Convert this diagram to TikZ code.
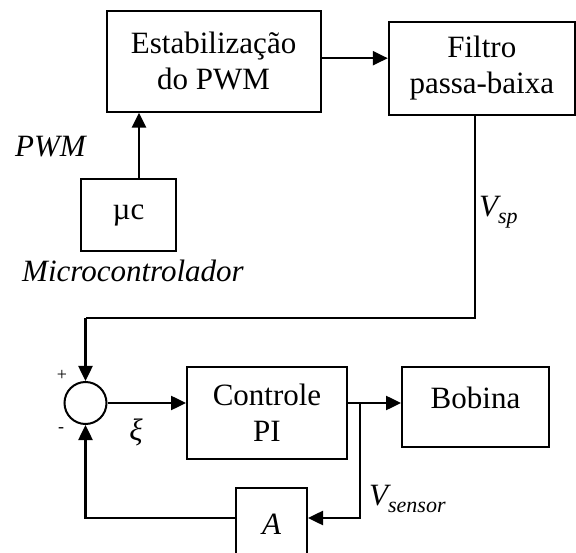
\documentclass[tikz,border=0pt]{standalone}
\usepackage{fontspec}
\setmainfont{Liberation Serif}
\usetikzlibrary{arrows.meta,calc}
\begin{document}
\begin{tikzpicture}[x=1pt,y=-1pt,
  blk/.style={draw,line width=2pt,inner sep=0pt,align=center,
    font=\fontsize{31}{36}\selectfont},
  arr/.style={line width=2.5pt,-{Triangle[length=15pt,width=14pt]}},
  wire/.style={line width=1.8pt},
  lbl/.style={inner sep=0pt,font=\fontsize{31}{36}\selectfont\itshape},
  sgn/.style={inner sep=0pt,font=\fontsize{18}{20}\selectfont}]
\useasboundingbox (0,0) rectangle (576,553);
\clip (0,0) rectangle (576,553);
% blocks
\node[blk,minimum width=214pt,minimum height=101pt] (estab) at (213.6,61.2) {Estabilização\\do PWM};
\node[blk,minimum width=186pt,minimum height=93pt] (filtro) at (481.8,68.4) {Filtro\\passa-baixa};
\node[blk,minimum width=95pt,minimum height=72pt] (mc) at (128.5,215) {µc};
\node[draw,circle,line width=2pt,minimum size=42pt,inner sep=0pt] (sum) at (85.5,403) {};
\node[blk,minimum width=160pt,minimum height=91pt] (pi) at (267,413) {Controle\\PI};
\node[blk,minimum width=147pt,minimum height=79pt,text depth=19pt] (bob) at (475.5,407) {Bobina};
\node[blk,minimum width=71pt,minimum height=72pt,font=\fontsize{31}{36}\selectfont\itshape] (A) at (271.5,524) {A};
% labels
\node[lbl] (pwm) at (50.5,147) {PWM};
\node[lbl,anchor=base west] (micro) at (22,281.7) {Microcontrolador};
\node[lbl,anchor=west] (vsp) at (479,212) {V\raisebox{-0.22em}{\fontsize{22}{22}\selectfont sp}};
\node[lbl,anchor=west] (vsen) at (369,499) {V\raisebox{-0.22em}{\fontsize{22}{22}\selectfont sensor}};
\node[lbl] (xi) at (136,432) {ξ};
\node[sgn] (plus) at (62,375) {+};
\node[sgn] (minus) at (61,430) {-};
% connectors
\coordinate (k) at (85.5,318);
\coordinate (br) at (360,403);
\draw[arr] ([xshift=10.5pt]mc.north) -- ([xshift=10.5pt]mc.north |- estab.south);
\draw[arr] ([yshift=3pt]estab.east) -- ([yshift=3pt]estab.east -| filtro.west);
\draw[wire] ([xshift=-6.8pt]filtro.south) |- (k);
\draw[arr] (k) -- (sum.north);
\draw[arr] (sum.east) -- (sum.east -| pi.west);
\draw[arr] ([yshift=10pt]pi.east) -- ([yshift=10pt]pi.east -| bob.west);
\draw[arr] (br) |- ([yshift=6pt]A.east);
\draw[arr] ([yshift=6pt]A.west) -| (sum.south);
\end{tikzpicture}
\end{document}
